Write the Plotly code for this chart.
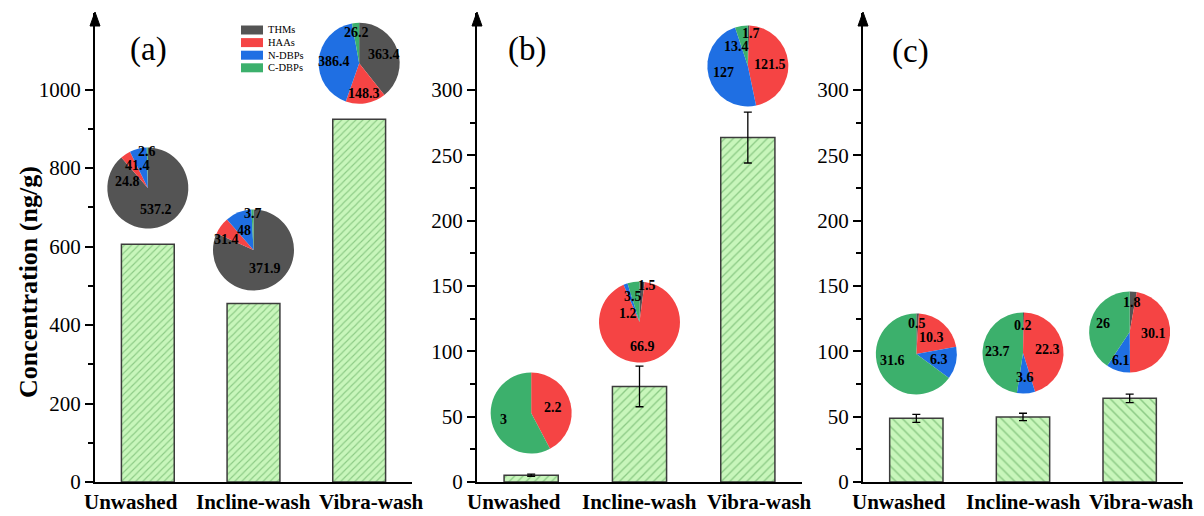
import math
import plotly.graph_objects as go

# ---------------- data ----------------
categories = ["Unwashed", "Incline-wash", "Vibra-wash"]
dbp_classes = ["THMs", "HAAs", "N-DBPs", "C-DBPs"]

a_totals = [606, 455, 924]
a_pies = [[537.2, 24.8, 41.4, 2.6],
          [371.9, 31.4, 48, 3.7],
          [363.4, 148.3, 386.4, 26.2]]

b_totals = [5.2, 73.1, 263.6]
b_err = [0.8, 15.5, 19.5]
b_pies = [[0, 2.2, 0, 3],
          [1.5, 66.9, 1.2, 3.5],
          [1.7, 121.5, 127, 13.4]]

c_totals = [48.7, 49.8, 64.0]
c_err = [3.1, 2.8, 3.2]
c_pies = [[0.5, 10.3, 6.3, 31.6],
          [0.2, 22.3, 3.6, 23.7],
          [1.8, 30.1, 6.1, 26]]

a_yticks = [0, 200, 400, 600, 800, 1000]
bc_yticks = [0, 50, 100, 150, 200, 250, 300]
panel_labels = ["(a)", "(b)", "(c)"]
y_title = "Concentration (ng/g)"

# ---------------- style / layout ----------------
W, H = 1204, 516
FONT = "Times New Roman, Liberation Serif, serif"
pie_colors = ["#545454", "#f54444", "#1f6fe3", "#3cb06c"]
BAR_BG = "#c8f6bb"
BAR_FG = "#4f9e4f"
BAR_LINE = "#3c3c3c"
# horizontal shift (px) of category labels
label_xshift = [-17, 0, 12]

Y0_PX, YTOP_PX = 482, 13
panels = [
    dict(x_px=(95, 412), ymax=1195, ticks=a_yticks, minor=[100, 300, 500, 700, 900],
         totals=a_totals, err=None, pies=a_pies, hatch="/", hsize=5,
         pie_pos=[(0, 749), (1, 591), (2, 1067)],
         lab_r=[[0.56, 0.52, 0.62, 0.9], [0.54, 0.72, 0.53, 0.9], [0.64, 0.76, 0.63, 0.76]],
         lab_da=[[0, -38, -10, 0], [0, -15, -5, 0], [0, 0, 0, 0]],
         label_px=(148, 50)),
    dict(x_px=(477, 802), ymax=358.9, ticks=bc_yticks, minor=[25, 75, 125, 175, 225, 275],
         totals=b_totals, err=b_err, pies=b_pies, hatch="/", hsize=6,
         pie_pos=[(0, 52.8), (1, 122.4), (2, 318.4)],
         lab_r=[[0.6, 0.55, 0.6, 0.7], [0.92, 0.61, 0.36, 0.66], [0.8, 0.55, 0.63, 0.55]],
         lab_da=[[0, 0, 0, 0], [8, 0, -32, -5], [5, 0, 0, -22]],
         label_px=(527, 50)),
    dict(x_px=(863, 1183), ymax=358.9, ticks=bc_yticks, minor=[25, 75, 125, 175, 225, 275],
         totals=c_totals, err=c_err, pies=c_pies, hatch="\\", hsize=7,
         pie_pos=[(0, 98), (1, 98.7), (2, 114.8)],
         lab_r=[[0.76, 0.55, 0.58, 0.61], [0.69, 0.6, 0.6, 0.62], [0.72, 0.59, 0.74, 0.68]],
         lab_da=[[0, 0, 0, 12], [0, 0, 0, 0], [0, 0, 0, 0]],
         label_px=(910, 52)),
]
PIE_R = 40.5


def pxx(px):
    return px / W


def pxy(py):
    return 1 - py / H


fig = go.Figure()
annotations = []
shapes = []

for i, p in enumerate(panels):
    n = "" if i == 0 else str(i + 1)
    xa, ya = "x" + n, "y" + n
    x0, x1 = p["x_px"]
    bar = go.Bar(
        x=categories, y=p["totals"], width=0.5, xaxis=xa, yaxis=ya, showlegend=False,
        marker=dict(color=BAR_BG, line=dict(color=BAR_LINE, width=1.5),
                    pattern=dict(shape=p["hatch"], fgcolor=BAR_FG, bgcolor=BAR_BG,
                                 size=p["hsize"], solidity=0.22)),
    )
    if p["err"] is not None:
        bar.error_y = dict(type="data", array=p["err"], color="black", thickness=1.3, width=4)
    fig.add_trace(bar)

    fig.update_layout(**{
        "xaxis" + n: dict(domain=[pxx(x0), pxx(x1)], anchor=ya, range=[-0.5, 2.5],
                          showticklabels=False,
                          showline=True, linecolor="black", linewidth=2, ticks="",
                          showgrid=False, zeroline=False, automargin=False),
        "yaxis" + n: dict(domain=[pxy(Y0_PX), pxy(YTOP_PX)], anchor=xa, range=[0, p["ymax"]],
                          tickmode="array", tickvals=p["ticks"], ticktext=[str(t) for t in p["ticks"]],
                          showline=True, linecolor="black", linewidth=2,
                          ticks="outside", ticklen=8, tickwidth=2, tickcolor="black",
                          minor=dict(tickmode="array", tickvals=p["minor"], ticks="outside",
                                     ticklen=5, tickwidth=1.5, tickcolor="black"),
                          showgrid=False, zeroline=False, automargin=False,
                          tickfont=dict(family=FONT, size=21, color="black")),
    })

    # category labels
    for c, xs in zip(categories, label_xshift):
        annotations.append(dict(text=c, x=c, xref=xa, y=0, yref=ya, yanchor="top",
                                xanchor="center", xshift=xs, yshift=-6, showarrow=False,
                                font=dict(family=FONT, size=21, color="black", weight="bold")))

    # arrow head on y axis
    ax_x = x0
    shapes.append(dict(type="path", xref="paper", yref="paper",
                       path=f"M {pxx(ax_x-5)},{pxy(YTOP_PX+13)} L {pxx(ax_x)},{pxy(YTOP_PX-1)} L {pxx(ax_x+5)},{pxy(YTOP_PX+13)} Z",
                       fillcolor="black", line=dict(color="black", width=1)))

    # panel label
    annotations.append(dict(text=panel_labels[i], x=pxx(p["label_px"][0]), y=pxy(p["label_px"][1]),
                            xref="paper", yref="paper", showarrow=False,
                            xanchor="center", yanchor="middle",
                            font=dict(family=FONT, size=33, color="black")))

    # pies
    scale_x = (x1 - x0) / 3.0
    scale_y = (Y0_PX - YTOP_PX) / p["ymax"]
    for j, vals in enumerate(p["pies"]):
        cat, yv = p["pie_pos"][j]
        cx = x0 + (cat + 0.5) * scale_x
        cy = Y0_PX - yv * scale_y
        fig.add_trace(go.Pie(
            values=vals, labels=dbp_classes, sort=False, direction="clockwise", rotation=0,
            marker=dict(colors=pie_colors, line=dict(width=0)), textinfo="none",
            showlegend=False, hoverinfo="label+value",
            domain=dict(x=[pxx(cx - PIE_R), pxx(cx + PIE_R)], y=[pxy(cy + PIE_R), pxy(cy - PIE_R)]),
        ))
        tot = sum(vals)
        cum = 0.0
        for k, v in enumerate(vals):
            if v <= 0:
                continue
            mid = (cum + v / 2) / tot * 2 * math.pi + math.radians(p["lab_da"][j][k])
            cum += v
            f = p["lab_r"][j][k]
            lx = cx + f * PIE_R * math.sin(mid)
            ly = cy - f * PIE_R * math.cos(mid)
            txt = ("%g" % v)
            annotations.append(dict(text=txt, x=pxx(lx), y=pxy(ly), xref="paper", yref="paper",
                                    showarrow=False, xanchor="center", yanchor="middle",
                                    font=dict(family=FONT, size=14, color="black", weight="bold")))

# manual legend
for k, name in enumerate(dbp_classes):
    rowy = 30 + k * 12.6
    shapes.append(dict(type="rect", xref="paper", yref="paper",
                       x0=pxx(241), x1=pxx(263), y0=pxy(rowy + 4.5), y1=pxy(rowy - 4.5),
                       fillcolor=pie_colors[k], line=dict(width=0)))
    annotations.append(dict(text=name, x=pxx(266), y=pxy(rowy), xref="paper", yref="paper",
                            xanchor="left", yanchor="middle", showarrow=False,
                            font=dict(family=FONT, size=10.5, color="black")))

# y title
annotations.append(dict(text=y_title, x=pxx(28), y=pxy(282), xref="paper", yref="paper",
                        textangle=-90, showarrow=False, xanchor="center", yanchor="middle",
                        font=dict(family=FONT, size=26, color="black", weight="bold")))

fig.update_layout(width=W, height=H, margin=dict(l=0, r=0, t=0, b=0),
                  plot_bgcolor="white", paper_bgcolor="white",
                  annotations=annotations, shapes=shapes, bargap=0.5)

fig.write_html("out.html")
